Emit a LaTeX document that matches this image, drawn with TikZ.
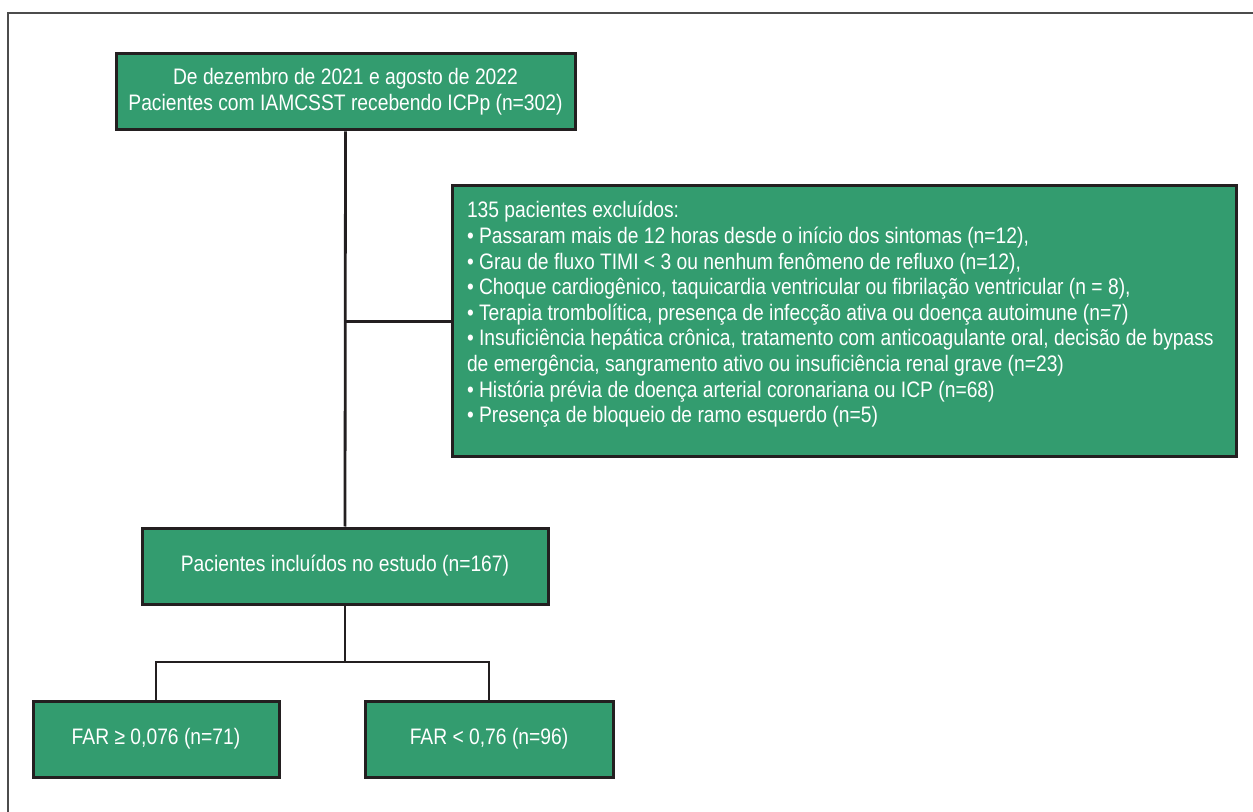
\documentclass[tikz,border=0pt]{standalone}
\usepackage{fontspec}
\setmainfont{Liberation Sans}[FakeStretch=0.86]
\usepackage{tikz}
\definecolor{boxgreen}{RGB}{51,156,111}
\definecolor{boxline}{RGB}{35,31,32}

\begin{document}
\begin{tikzpicture}[x=0.5pt, y=-0.5pt]
        \tikzstyle{box}=[draw=boxline, line width=1.5pt, fill=boxgreen, text=white, inner sep=0pt, align=center, font=\fontsize{11.2}{13}\selectfont]
        \tikzstyle{link}=[draw=boxline, line width=1.4pt]
        \useasboundingbox (0,0) rectangle (1253,812);
        \draw [gray!60!black, line width=1pt] (8,812) -- (8,13) -- (1253,13);
        \node [box, minimum width=229.5pt, minimum height=38pt] (top) at (345.5,92) {De dezembro de 2021 e agosto de 2022\\Pacientes com IAMCSST recebendo ICPp (n=302)};
        \node [box, minimum width=392pt, minimum height=135.5pt] (excl) at (844,321.5) {\parbox[c][120pt][t]{377pt}{\raggedright\fontsize{11.2}{12.8}\selectfont
        135 pacientes excluídos:\\
        • Passaram mais de 12 horas desde o início dos sintomas (n=12),\\
        • Grau de fluxo TIMI < 3 ou nenhum fenômeno de refluxo (n=12),\\
        • Choque cardiogênico, taquicardia ventricular ou fibrilação ventricular (n = 8),\\
        • Terapia trombolítica, presença de infecção ativa ou doença autoimune (n=7)\\
        • Insuficiência hepática crônica, tratamento com anticoagulante oral, decisão de bypass\\
        de emergência, sangramento ativo ou insuficiência renal grave (n=23)\\
        • História prévia de doença arterial coronariana ou ICP (n=68)\\
        • Presença de bloqueio de ramo esquerdo (n=5)}};
        \node [box, minimum width=203pt, minimum height=38pt] (incl) at (345,566) {Pacientes incluídos no estudo (n=167)};
        \node [box, minimum width=123pt, minimum height=38pt] (farhigh) at (156,739) {FAR ≥ 0,076 (n=71)};
        \node [box, minimum width=124pt, minimum height=38pt] (farlow) at (489,739) {FAR < 0,76 (n=96)};
        % connectors
        \coordinate (split) at (incl.south |- 0,662);
        \draw [link] (top.south) -- (incl.north);
        \draw [link] (excl.west) -- (top.south |- excl.west);
        \draw [link] (incl.south) -- (split);
        \draw [link] (farhigh.north) |- (split) -| (farlow.north);
    \end{tikzpicture}
\end{document}
